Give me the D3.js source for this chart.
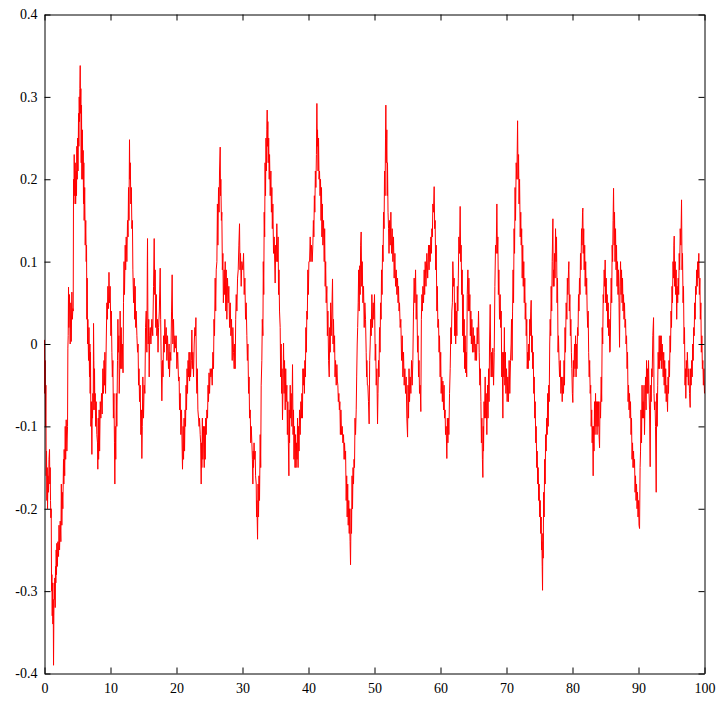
<!DOCTYPE html>
<html>
<head>
<meta charset="utf-8">
<script src="https://cdn.jsdelivr.net/npm/d3@7"></script>
<style>
  html, body { margin: 0; padding: 0; background: #ffffff; }
  svg { display: block; }
  .tick text { font-family: "Liberation Serif", "DejaVu Serif", serif; font-size: 14px; fill: #000; }
</style>
</head>
<body>
<svg id="chart" width="724" height="704"></svg>
<script>
// ---- data: [time, value] ----
const part1 = [[0,0.005],[0.05,-0.06],[0.1,-0.02],[0.16,-0.1],[0.21,-0.05],[0.26,-0.16],[0.31,-0.13],[0.36,-0.19],[0.41,-0.15],[0.46,-0.2],[0.53,-0.16],[0.61,-0.18],[0.68,-0.14],[0.76,-0.128],[0.81,-0.17],[0.86,-0.15],[0.91,-0.19],[0.96,-0.211],[1.02,-0.2],[1.07,-0.3],[1.12,-0.28],[1.17,-0.33],[1.22,-0.29],[1.27,-0.34],[1.32,-0.31],[1.37,-0.39],[1.42,-0.33],[1.47,-0.29],[1.52,-0.31],[1.57,-0.284],[1.62,-0.32],[1.67,-0.27],[1.72,-0.29],[1.77,-0.25],[1.82,-0.28],[1.87,-0.242],[1.95,-0.27],[2.03,-0.24],[2.13,-0.258],[2.2,-0.22],[2.28,-0.25],[2.38,-0.215],[2.48,-0.24],[2.55,-0.17],[2.63,-0.22],[2.7,-0.18],[2.78,-0.2],[2.88,-0.14],[2.93,-0.17],[2.98,-0.128],[3.06,-0.16],[3.14,-0.1],[3.21,-0.14],[3.29,-0.092],[3.39,-0.13],[3.49,-0.1],[3.54,-0.005],[3.59,0.01],[3.64,0.069],[3.69,0.02],[3.79,0.06],[3.89,0],[3.99,0.05],[4.05,0.003],[4.15,0.063],[4.22,0.03],[4.3,0.043],[4.35,0.04],[4.4,0.2],[4.45,0.17],[4.5,0.23],[4.58,0.18],[4.65,0.22],[4.72,0.17],[4.8,0.21],[4.85,0.18],[4.9,0.24],[4.96,0.2],[5.01,0.25],[5.08,0.21],[5.16,0.28],[5.21,0.24],[5.26,0.3],[5.31,0.27],[5.36,0.31],[5.41,0.338],[5.46,0.28],[5.51,0.31],[5.56,0.22],[5.61,0.29],[5.66,0.2],[5.74,0.26],[5.81,0.2],[5.86,0.235],[5.91,0.17],[5.96,0.22],[6.01,0.15],[6.09,0.19],[6.17,0.12],[6.25,0.15],[6.32,0.1],[6.37,0.12],[6.42,0.03],[6.47,0.08],[6.52,0],[6.57,0.03],[6.67,-0.02],[6.74,0.02],[6.82,-0.04],[6.88,0],[6.92,-0.06],[6.97,-0.01],[7.03,-0.1],[7.1,-0.07],[7.18,-0.134],[7.23,-0.08],[7.28,-0.09],[7.33,-0.06],[7.38,-0.08],[7.43,0.025],[7.48,-0.02],[7.53,-0.07],[7.58,-0.03],[7.63,-0.08],[7.68,-0.06],[7.75,-0.1],[7.83,-0.07],[7.93,-0.11],[8.03,-0.12],[8.08,-0.152],[8.14,-0.09],[8.2,-0.14],[8.28,-0.08],[8.35,-0.13],[8.45,-0.07],[8.54,-0.09],[8.64,-0.06],[8.74,-0.085],[8.84,-0.03],[8.94,-0.06],[9.02,-0.02],[9.09,-0.05],[9.15,-0.01],[9.25,-0.06],[9.35,0],[9.45,0.05],[9.52,0.03],[9.6,0.07],[9.7,0.043],[9.77,0.087],[9.85,0.05],[9.95,0.07],[10.06,0.01],[10.13,0.04],[10.21,-0.01],[10.28,-0.04],[10.36,-0.02],[10.44,-0.09],[10.52,-0.06],[10.6,-0.12],[10.66,-0.17],[10.72,-0.1],[10.8,-0.14],[10.88,-0.06],[10.96,-0.1],[11.06,-0.02],[11.12,0.03],[11.2,-0.01],[11.27,0.01],[11.32,-0.06],[11.4,-0.03],[11.46,0.04],[11.55,-0.03],[11.62,0.02],[11.72,-0.03],[11.8,0],[11.9,-0.035],[11.97,0.05],[12.05,0.1],[12.12,0.06],[12.23,0.12],[12.3,0.09],[12.38,0.13],[12.48,0.1],[12.58,0.15],[12.66,0.13],[12.73,0.19],[12.8,0.15],[12.88,0.248],[12.93,0.2],[13,0.22],[13.08,0.17],[13.16,0.19],[13.24,0.14],[13.32,0.15],[13.39,0.09],[13.5,0.05],[13.59,0.08],[13.66,0.03],[13.74,0.07],[13.82,0.02],[13.89,0.04],[14,0.01],[14.1,-0.01],[14.18,0],[14.25,-0.05],[14.32,-0.03],[14.4,-0.07],[14.5,-0.05],[14.6,-0.11],[14.68,-0.08],[14.75,-0.139],[14.82,-0.1],[14.9,-0.04],[15,-0.09],[15.1,-0.05],[15.21,-0.06],[15.31,0.02],[15.41,0.04],[15.51,-0.01],[15.58,0.1],[15.61,0.128],[15.66,0.04],[15.71,0],[15.8,0.03],[15.86,-0.04],[15.94,0.01],[16.02,0.02],[16.12,0],[16.26,0.03],[16.4,0.01],[16.52,0.07],[16.62,0.128]];

const part2 = [[16.7,0.06],[16.77,0.09],[16.85,0.02],[16.95,0.06],[17.02,0.01],[17.12,0.03],[17.2,-0.01],[17.28,0.02],[17.4,0.04],[17.53,0.092],[17.6,0.03],[17.68,-0.02],[17.78,-0.069],[17.88,-0.02],[17.96,-0.04],[18.04,0.01],[18.14,-0.01],[18.24,0.03],[18.34,0],[18.44,0.02],[18.54,-0.02],[18.64,0.01],[18.79,-0.03],[18.88,0],[18.94,-0.04],[19.04,-0.01],[19.14,-0.02],[19.25,0.04],[19.34,0.084],[19.4,0.03],[19.45,0],[19.55,0.03],[19.65,-0.01],[19.75,0.01],[19.85,-0.005],[19.95,0.01],[20.05,-0.03],[20.18,-0.01],[20.31,-0.045],[20.4,-0.04],[20.46,-0.08],[20.56,-0.06],[20.66,-0.11],[20.76,-0.08],[20.86,-0.13],[20.91,-0.152],[21,-0.1],[21.07,-0.14],[21.15,-0.09],[21.22,-0.13],[21.3,-0.08],[21.37,-0.1],[21.45,-0.05],[21.52,-0.08],[21.6,-0.03],[21.67,-0.06],[21.75,-0.02],[21.83,-0.04],[21.9,-0.01],[21.98,-0.045],[22.05,-0.01],[22.13,-0.04],[22.25,-0.02],[22.33,0.017],[22.4,-0.03],[22.48,-0.01],[22.58,-0.04],[22.68,0],[22.78,0.02],[22.88,0.01],[22.94,0.032],[23.02,-0.04],[23.09,-0.06],[23.16,-0.03],[23.24,-0.08],[23.34,-0.09],[23.42,-0.1],[23.49,-0.09],[23.59,-0.11],[23.66,-0.12],[23.74,-0.17],[23.8,-0.12],[23.84,-0.15],[23.92,-0.09],[23.99,-0.14],[24.1,-0.1],[24.2,-0.15],[24.28,-0.1],[24.35,-0.14],[24.42,-0.09],[24.5,-0.11],[24.6,-0.08],[24.7,-0.09],[24.78,-0.05],[24.85,-0.07],[24.93,-0.035],[25.01,-0.06],[25.11,-0.03],[25.21,-0.04],[25.31,-0.03],[25.41,-0.05],[25.51,-0.01],[25.61,-0.03],[25.68,0.03],[25.76,0.01],[25.86,0.08],[25.94,0.04],[26.02,0.09],[26.12,0.1],[26.2,0.17],[26.27,0.12],[26.37,0.19],[26.45,0.16],[26.52,0.21],[26.62,0.239],[26.67,0.18],[26.72,0.2],[26.8,0.15],[26.87,0.16],[26.95,0.09],[27.03,0.11],[27.1,0.05],[27.23,0.09],[27.3,0.06],[27.38,0.1],[27.46,0.04],[27.53,0.09],[27.63,0.03],[27.73,0.08],[27.83,0.05],[27.93,0.07],[28.04,0.02],[28.14,0.05],[28.24,0.01],[28.34,0.03],[28.44,-0.02],[28.54,0.02],[28.64,-0.01],[28.74,-0.03],[28.82,0],[28.89,-0.03],[28.97,0.03],[29.05,0.06],[29.15,0.04],[29.25,0.08],[29.35,0.09],[29.45,0.12],[29.55,0.146],[29.62,0.09],[29.7,0.11],[29.8,0.07],[29.9,0.1],[30.06,0.09],[30.16,0.11],[30.26,0.06],[30.36,0.08],[30.46,0.03],[30.56,0.05],[30.66,0.01],[30.74,-0.02],[30.82,0],[30.92,-0.06],[31,-0.04],[31.07,-0.09],[31.17,-0.08],[31.25,-0.12],[31.32,-0.1],[31.42,-0.12],[31.5,-0.14],[31.57,-0.17],[31.62,-0.13],[31.67,-0.15],[31.75,-0.12],[31.82,-0.14],[31.92,-0.13],[31.98,-0.16],[32.08,-0.17],[32.13,-0.21],[32.18,-0.19],[32.28,-0.237],[32.36,-0.17],[32.43,-0.21],[32.5,-0.16],[32.58,-0.19],[32.68,-0.11],[32.76,-0.15],[32.83,-0.05],[32.93,-0.02],[33,0.03],[33.09,0.01],[33.15,0.1],[33.22,0.06],[33.29,0.16],[33.36,0.13],[33.42,0.22],[33.49,0.18],[33.56,0.25],[33.62,0.21],[33.69,0.26],[33.74,0.284]];

const part3 = [[33.79,0.24],[33.84,0.27],[33.89,0.22],[33.97,0.25],[34.05,0.2],[34.1,0.23],[34.2,0.18],[34.3,0.21],[34.38,0.16],[34.45,0.19],[34.52,0.14],[34.6,0.17],[34.7,0.11],[34.8,0.13],[34.95,0.074],[35.03,0.12],[35.11,0.1],[35.2,0.146],[35.31,0.1],[35.4,0.13],[35.46,0.06],[35.53,0.09],[35.61,0.04],[35.71,0.02],[35.78,-0.04],[35.86,0],[35.93,-0.06],[35.99,-0.03],[36.06,-0.092],[36.14,-0.05],[36.22,0.001],[36.3,-0.06],[36.37,-0.02],[36.47,-0.08],[36.55,-0.03],[36.62,-0.07],[36.72,-0.05],[36.8,-0.11],[36.87,-0.07],[36.95,-0.12],[37.03,-0.16],[37.08,-0.08],[37.13,-0.12],[37.23,-0.05],[37.3,-0.09],[37.38,-0.06],[37.48,-0.1],[37.58,-0.025],[37.66,-0.11],[37.73,-0.08],[37.8,-0.14],[37.88,-0.1],[37.96,-0.15],[38.04,-0.11],[38.12,-0.15],[38.19,-0.12],[38.27,-0.14],[38.34,-0.09],[38.42,-0.15],[38.49,-0.1],[38.57,-0.13],[38.64,-0.08],[38.74,-0.11],[38.84,-0.07],[38.92,-0.09],[39,-0.06],[39.08,-0.09],[39.15,-0.03],[39.22,-0.05],[39.3,-0.03],[39.38,-0.06],[39.45,-0.02],[39.53,-0.04],[39.6,0.02],[39.68,-0.01],[39.75,0.04],[39.82,0.03],[39.9,0.09],[39.98,0.06],[40.06,0.1],[40.16,0.1],[40.26,0.13],[40.36,0.1],[40.46,0.12],[40.56,0.1],[40.66,0.12],[40.74,0.15],[40.81,0.13],[40.89,0.18],[40.96,0.16],[41.04,0.21],[41.12,0.19],[41.2,0.23],[41.27,0.292],[41.33,0.24],[41.37,0.26],[41.45,0.21],[41.52,0.25],[41.6,0.2],[41.67,0.21],[41.75,0.18],[41.82,0.2],[41.9,0.15],[41.97,0.19],[42.03,0.13],[42.1,0.17],[42.18,0.12],[42.28,0.15],[42.38,0.1],[42.45,0.14],[42.53,0.07],[42.6,0.1],[42.68,0.05],[42.78,0.07],[42.86,0.01],[42.94,0.04],[43.04,-0.02],[43.14,-0.04],[43.22,0.02],[43.29,-0.01],[43.36,0.05],[43.44,0.01],[43.54,0.04],[43.64,0.079],[43.72,0],[43.79,0.03],[43.87,-0.01],[43.95,0.01],[44.02,-0.04],[44.1,-0.02],[44.2,-0.05],[44.3,-0.025],[44.38,-0.045],[44.45,-0.05],[44.52,-0.07],[44.6,-0.06],[44.68,-0.08],[44.75,-0.07],[44.83,-0.11],[44.91,-0.08],[45.01,-0.11],[45.11,-0.1],[45.21,-0.12],[45.31,-0.11],[45.4,-0.14],[45.46,-0.12],[45.56,-0.14],[45.62,-0.13],[45.71,-0.19],[45.79,-0.16],[45.86,-0.21],[45.94,-0.17],[46.02,-0.22],[46.1,-0.19],[46.17,-0.23],[46.22,-0.2],[46.3,-0.24],[46.37,-0.268],[46.45,-0.2],[46.52,-0.23],[46.6,-0.16],[46.67,-0.2],[46.75,-0.15],[46.82,-0.17],[46.9,-0.14],[46.97,-0.15],[47.05,-0.09],[47.13,-0.11],[47.23,-0.08],[47.3,-0.04],[47.38,0],[47.45,0.02],[47.53,0.05],[47.6,0.09],[47.68,0.04],[47.76,0.095],[47.83,0.06],[47.9,0.12],[47.98,0.136],[48.06,0.07],[48.14,0.1],[48.24,0.05],[48.34,0.07],[48.44,0.02],[48.54,0.05],[48.64,0.03],[48.74,-0.01],[48.8,-0.04],[48.84,-0.02],[48.92,-0.05],[48.99,-0.05],[49.09,-0.07],[49.19,-0.097],[49.27,-0.02],[49.35,0],[49.42,0.03],[49.5,0.01],[49.6,0.06],[49.7,0.02],[49.8,0.05],[49.9,0.03]];

const part4 = [[50,0.06],[50.11,-0.02],[50.18,0],[50.26,-0.05],[50.36,-0.03],[50.46,-0.097],[50.53,-0.06],[50.61,-0.02],[50.68,-0.04],[50.76,0.02],[50.84,-0.01],[50.92,0.05],[51,0.03],[51.07,0.09],[51.15,0.06],[51.22,0.12],[51.3,0.1],[51.37,0.16],[51.45,0.14],[51.52,0.21],[51.6,0.18],[51.67,0.25],[51.72,0.29],[51.78,0.22],[51.87,0.26],[51.93,0.18],[51.97,0.22],[52.05,0.16],[52.13,0.14],[52.2,0.11],[52.28,0.15],[52.38,0.12],[52.48,0.16],[52.58,0.11],[52.68,0.14],[52.78,0.1],[52.88,0.13],[52.98,0.08],[53.09,0.11],[53.19,0.07],[53.29,0.09],[53.39,0.06],[53.49,0.08],[53.57,0.05],[53.64,0.07],[53.72,0.04],[53.79,0.05],[53.89,0.02],[53.99,0.03],[54.1,-0.02],[54.2,0.01],[54.3,-0.04],[54.4,-0.01],[54.5,-0.05],[54.6,-0.03],[54.7,-0.06],[54.8,-0.04],[54.9,-0.09],[55.01,-0.113],[55.08,-0.05],[55.16,-0.09],[55.23,-0.03],[55.31,-0.07],[55.41,-0.04],[55.51,-0.06],[55.61,-0.02],[55.71,-0.05],[55.81,-0.02],[55.91,0.04],[56.01,0.08],[56.12,0.05],[56.22,0.09],[56.32,0.03],[56.42,0.06],[56.52,-0.01],[56.6,0.01],[56.67,-0.04],[56.75,-0.02],[56.82,-0.06],[56.92,-0.05],[57.02,-0.082],[57.1,0.03],[57.18,0.06],[57.25,0.04],[57.33,0.07],[57.43,0.05],[57.53,0.09],[57.6,0.06],[57.68,0.1],[57.8,0.07],[57.93,0.11],[58.06,0.08],[58.19,0.12],[58.27,0.09],[58.34,0.12],[58.44,0.1],[58.54,0.13],[58.62,0.11],[58.69,0.14],[58.77,0.13],[58.84,0.17],[58.94,0.16],[59.04,0.191],[59.12,0.14],[59.19,0.15],[59.27,0.09],[59.35,0.12],[59.45,0.04],[59.52,0.07],[59.6,0.02],[59.7,0.03],[59.78,-0.01],[59.85,0.01],[59.95,-0.04],[60.03,-0.01],[60.1,-0.06],[60.2,-0.04],[60.28,-0.07],[60.36,-0.045],[60.46,-0.08],[60.54,-0.05],[60.61,-0.09],[60.7,-0.08],[60.76,-0.11],[60.86,-0.1],[60.96,-0.139],[61.04,-0.09],[61.12,-0.12],[61.2,-0.09],[61.27,-0.11],[61.37,-0.06],[61.47,-0.03],[61.57,0.02],[61.65,0],[61.72,0.04],[61.8,0.05],[61.87,0.1],[61.97,0.07],[62.07,0.08],[62.15,0.01],[62.23,0.05],[62.3,0],[62.38,0.04],[62.48,0.01],[62.55,0.07],[62.63,0.04],[62.7,0.08],[62.78,0.13],[62.88,0.11],[62.98,0.167],[63.06,0.1],[63.13,0.12],[63.21,0.06],[63.29,0.09],[63.36,0.01],[63.44,0.06],[63.52,-0.01],[63.59,0.03],[63.66,-0.03],[63.74,0.01],[63.82,-0.035],[63.89,-0.01],[63.97,-0.04],[64.05,0.06],[64.15,0.09],[64.22,0.04],[64.3,0.08],[64.38,0.04],[64.45,0.06],[64.52,0.01],[64.6,0.04],[64.68,0],[64.75,0.03],[64.85,-0.01],[64.95,0.02],[65.06,-0.01],[65.16,0.01],[65.26,-0.02],[65.36,0],[65.46,-0.02],[65.56,0.02],[65.66,0],[65.76,0.04],[65.86,-0.01],[65.96,-0.05],[66.04,-0.03],[66.12,-0.07],[66.2,-0.12],[66.27,-0.09],[66.35,-0.14],[66.42,-0.162],[66.48,-0.1],[66.52,-0.13],[66.6,-0.07]];

const part5 = [[66.67,-0.09],[66.77,-0.04],[66.85,-0.09],[66.92,-0.06],[67.02,-0.11],[67.13,-0.05],[67.2,-0.09],[67.28,-0.03],[67.36,-0.07],[67.43,0],[67.53,0.048],[67.6,-0.01],[67.68,-0.04],[67.76,-0.01],[67.83,-0.04],[67.93,-0.005],[68.04,-0.05],[68.14,-0.01],[68.24,0.07],[68.34,0.12],[68.44,0.11],[68.54,0.17],[68.62,0.11],[68.69,0.13],[68.77,0.06],[68.84,0.09],[68.94,0.03],[69.04,0.06],[69.12,0.02],[69.2,0.04],[69.28,-0.04],[69.35,-0.01],[69.45,-0.09],[69.52,-0.01],[69.6,-0.04],[69.68,0.02],[69.75,-0.05],[69.83,-0.01],[69.91,-0.06],[70,-0.03],[70.1,-0.07],[70.2,-0.04],[70.3,-0.07],[70.4,-0.02],[70.5,-0.06],[70.61,-0.02],[70.7,0],[70.76,0.03],[70.85,-0.02],[70.92,0.04],[71,0.09],[71.07,0.05],[71.15,0.14],[71.22,0.11],[71.3,0.19],[71.37,0.15],[71.47,0.22],[71.57,0.2],[71.68,0.271],[71.75,0.2],[71.83,0.23],[71.9,0.17],[71.98,0.2],[72.08,0.13],[72.16,0.16],[72.23,0.12],[72.3,0.14],[72.38,0.08],[72.46,0.12],[72.54,0.07],[72.62,0.1],[72.69,0.05],[72.77,0.08],[72.84,0.03],[72.92,0.05],[72.99,0.01],[73.07,0.03],[73.14,-0.03],[73.22,-0.01],[73.29,-0.03],[73.37,0],[73.44,-0.02],[73.52,0.03],[73.59,0.01],[73.67,0.04],[73.74,0.053],[73.82,-0.01],[73.9,0.01],[73.97,-0.03],[74.05,-0.01],[74.13,-0.06],[74.2,-0.04],[74.28,-0.09],[74.35,-0.07],[74.43,-0.12],[74.5,-0.1],[74.58,-0.15],[74.65,-0.13],[74.73,-0.17],[74.8,-0.15],[74.88,-0.19],[74.95,-0.17],[75.03,-0.21],[75.11,-0.19],[75.18,-0.23],[75.26,-0.21],[75.31,-0.25],[75.36,-0.24],[75.41,-0.27],[75.46,-0.299],[75.51,-0.23],[75.56,-0.26],[75.63,-0.18],[75.71,-0.21],[75.78,-0.14],[75.86,-0.17],[75.93,-0.11],[76.01,-0.13],[76.09,-0.09],[76.17,-0.11],[76.24,-0.06],[76.32,-0.1],[76.4,-0.05],[76.47,-0.07],[76.55,0],[76.62,0.03],[76.7,0.01],[76.77,0.07],[76.85,0.04],[76.92,0.1],[77.03,0.152],[77.08,0.07],[77.13,0.09],[77.2,0.07],[77.28,0.11],[77.36,0.08],[77.43,0.14],[77.51,0.1],[77.58,0.13],[77.66,0.05],[77.73,0.08],[77.81,-0.01],[77.88,0.01],[77.96,-0.02],[78.04,-0.04],[78.14,-0.02],[78.24,-0.06],[78.34,-0.04],[78.44,-0.07],[78.54,-0.04],[78.64,-0.06],[78.72,-0.02],[78.79,-0.05],[78.87,0.02],[78.94,-0.01],[79.04,0.05],[79.15,0.03],[79.22,0.08],[79.3,0.06],[79.4,0.09],[79.45,0.1],[79.52,0.04],[79.6,0.06],[79.68,0.01],[79.75,0.03],[79.83,-0.01],[79.9,-0.03],[79.98,-0.06],[80.05,-0.071],[80.13,-0.02],[80.2,-0.04],[80.31,0],[80.38,-0.03],[80.46,0.01],[80.54,-0.04],[80.61,0],[80.68,-0.03],[80.76,0.02],[80.84,0.01],[80.91,0.06],[80.98,0.04],[81.06,0.08],[81.14,0.06],[81.21,0.11],[81.29,0.09],[81.37,0.14],[81.44,0.12],[81.52,0.16],[81.57,0.165],[81.62,0.11],[81.7,0.14],[81.77,0.09],[81.85,0.12],[81.92,0.07],[82,0.1],[82.07,0.06],[82.15,0.08],[82.22,0.04],[82.3,0.02],[82.37,0.04],[82.45,-0.01],[82.53,-0.04],[82.6,-0.02],[82.68,-0.06],[82.76,-0.05],[82.83,-0.1],[82.91,-0.08],[82.98,-0.12],[83.06,-0.1],[83.13,-0.16]];

const part6 = [[83.18,-0.1],[83.26,-0.13],[83.34,-0.07],[83.41,-0.11],[83.49,-0.06],[83.56,-0.1],[83.64,-0.07],[83.72,-0.11],[83.79,-0.07],[83.87,-0.1],[83.94,-0.07],[84.02,-0.11],[84.1,-0.126],[84.17,-0.07],[84.25,-0.09],[84.35,-0.04],[84.42,-0.07],[84.5,0.02],[84.58,0],[84.65,0.06],[84.72,0.05],[84.8,0.09],[84.88,0.07],[84.95,0.102],[85.03,0.05],[85.11,0.08],[85.18,0.04],[85.26,0.06],[85.34,0.02],[85.41,0.05],[85.49,0.01],[85.56,0.03],[85.64,-0.01],[85.71,-0.009],[85.79,0.04],[85.86,0.08],[85.94,0.05],[86.01,0.12],[86.08,0.1],[86.15,0.15],[86.22,0.189],[86.3,0.12],[86.37,0.16],[86.44,0.1],[86.52,0.14],[86.6,0.09],[86.67,0.12],[86.75,0.07],[86.82,0.1],[86.9,0.06],[86.97,0.09],[87.05,0.05],[87.13,-0.004],[87.2,0.07],[87.28,0.1],[87.36,0.06],[87.43,0.09],[87.51,0.05],[87.58,0.08],[87.66,0.04],[87.73,0.06],[87.81,0.03],[87.88,0.05],[87.96,0.02],[88.04,0.03],[88.11,0],[88.19,0.01],[88.27,-0.03],[88.34,-0.01],[88.42,-0.07],[88.49,-0.05],[88.57,-0.08],[88.64,-0.06],[88.72,-0.09],[88.79,-0.07],[88.87,-0.11],[88.94,-0.09],[89.02,-0.14],[89.1,-0.12],[89.17,-0.15],[89.25,-0.13],[89.32,-0.15],[89.4,-0.14],[89.48,-0.18],[89.55,-0.16],[89.63,-0.19],[89.7,-0.17],[89.78,-0.2],[89.85,-0.18],[89.93,-0.21],[90.01,-0.19],[90.08,-0.22],[90.16,-0.224],[90.24,-0.15],[90.31,-0.13],[90.38,-0.08],[90.46,-0.12],[90.54,-0.05],[90.61,-0.09],[90.69,-0.07],[90.76,-0.09],[90.84,-0.05],[90.91,-0.11],[90.99,-0.07],[91.07,-0.04],[91.15,-0.08],[91.22,-0.02],[91.3,-0.06],[91.37,-0.03],[91.45,-0.06],[91.52,-0.02],[91.6,-0.06],[91.67,-0.08],[91.77,-0.149],[91.85,-0.05],[91.92,-0.07],[92,-0.03],[92.07,-0.04],[92.17,0.01],[92.28,0.032],[92.35,-0.06],[92.43,-0.08],[92.5,-0.07],[92.58,-0.1],[92.68,-0.18],[92.76,-0.06],[92.83,-0.1],[92.91,-0.05],[92.98,-0.01],[93.06,-0.03],[93.14,0.01],[93.21,-0.03],[93.29,0.01],[93.36,-0.02],[93.44,0.01],[93.52,-0.03],[93.59,0],[93.67,-0.02],[93.74,-0.04],[93.82,-0.01],[93.89,-0.05],[93.97,-0.02],[94.04,-0.06],[94.12,-0.03],[94.2,-0.07],[94.3,-0.05],[94.4,-0.082],[94.48,-0.04],[94.55,-0.06],[94.62,-0.02],[94.7,-0.04],[94.78,0.01],[94.85,-0.01],[94.93,0.04],[95,0.02],[95.08,0.07],[95.15,0.05],[95.23,0.1],[95.31,0.08],[95.36,0.12],[95.41,0.131],[95.48,0.07],[95.56,0.1],[95.63,0.06],[95.71,0.09],[95.79,0.03],[95.86,0.07],[95.94,0.05],[96.01,0.08],[96.09,0.06],[96.17,0.11],[96.24,0.09],[96.32,0.14],[96.42,0.12],[96.52,0.175],[96.6,0.09],[96.67,0.11],[96.75,0.05],[96.82,0.07],[96.9,0],[96.97,0.02],[97.05,-0.05],[97.12,-0.03],[97.17,-0.066],[97.25,-0.02],[97.33,-0.04],[97.4,-0.01],[97.48,-0.03],[97.55,-0.05],[97.63,-0.03],[97.73,-0.06],[97.83,-0.077],[97.9,-0.03],[97.98,-0.05],[98.06,-0.02],[98.14,-0.04],[98.21,0],[98.29,-0.02],[98.36,0.02],[98.44,0.01],[98.51,0.05],[98.59,0.03],[98.66,0.07],[98.74,0.06],[98.81,0.09],[98.89,0.07],[98.97,0.1],[99.04,0.08],[99.14,0.11],[99.22,0.06],[99.3,0.08],[99.37,0.03],[99.45,0.05],[99.52,-0.01],[99.6,0.01],[99.68,-0.03],[99.75,-0.02],[99.83,-0.05],[99.9,-0.03],[100,-0.06]];

const xTickValues = [0, 10, 20, 30, 40, 50, 60, 70, 80, 90, 100];
const xTickLabels = ["0", "10", "20", "30", "40", "50", "60", "70", "80", "90", "100"];
const yTickValues = [-0.4, -0.3, -0.2, -0.1, 0, 0.1, 0.2, 0.3, 0.4];
const yTickLabels = ["-0.4", "-0.3", "-0.2", "-0.1", "0", "0.1", "0.2", "0.3", "0.4"];

// ---- drawing ----
const series = [].concat(part1, part2, part3, part4, part5, part6);

const svg = d3.select("#chart");
const plotLeft = 44.5, plotRight = 704.5, plotTop = 14.5, plotBottom = 673.5;

const x = d3.scaleLinear().domain([0, 100]).range([plotLeft, plotRight]);
const y = d3.scaleLinear().domain([-0.4, 0.4]).range([plotBottom, plotTop]);

svg.append("rect").attr("width", 724).attr("height", 704).attr("fill", "#ffffff");

const line = d3.line().x(d => x(d[0])).y(d => y(d[1]));
svg.append("path")
  .datum(series)
  .attr("fill", "none")
  .attr("stroke", "#ff0000")
  .attr("stroke-width", 1)
  .attr("stroke-linejoin", "miter")
  .attr("d", line);

const xFmt = d => xTickLabels[xTickValues.indexOf(d)];
const yFmt = d => yTickLabels[yTickValues.indexOf(d)];

function styleAxis(g) {
  g.selectAll("path.domain").attr("stroke", "#000").attr("stroke-width", 1);
  g.selectAll(".tick line").attr("stroke", "#000").attr("stroke-width", 1);
  g.selectAll(".tick text").attr("fill", "#000");
}

svg.append("g").attr("transform", `translate(0,${plotBottom})`)
  .call(d3.axisBottom(x).tickValues(xTickValues).tickFormat(xFmt).tickSize(-6).tickSizeOuter(0).tickPadding(10))
  .call(styleAxis)
  .attr("font-family", "Liberation Serif").attr("font-size", 14);

svg.append("g").attr("transform", `translate(0,${plotTop})`)
  .call(d3.axisTop(x).tickValues(xTickValues).tickFormat("").tickSize(-6).tickSizeOuter(0))
  .call(styleAxis);

svg.append("g").attr("transform", `translate(${plotLeft},0)`)
  .call(d3.axisLeft(y).tickValues(yTickValues).tickFormat(yFmt).tickSize(-6).tickSizeOuter(0).tickPadding(7))
  .call(styleAxis)
  .attr("font-family", "Liberation Serif").attr("font-size", 14);

svg.append("g").attr("transform", `translate(${plotRight},0)`)
  .call(d3.axisRight(y).tickValues(yTickValues).tickFormat("").tickSize(-6).tickSizeOuter(0))
  .call(styleAxis);
</script>
</body>
</html>
